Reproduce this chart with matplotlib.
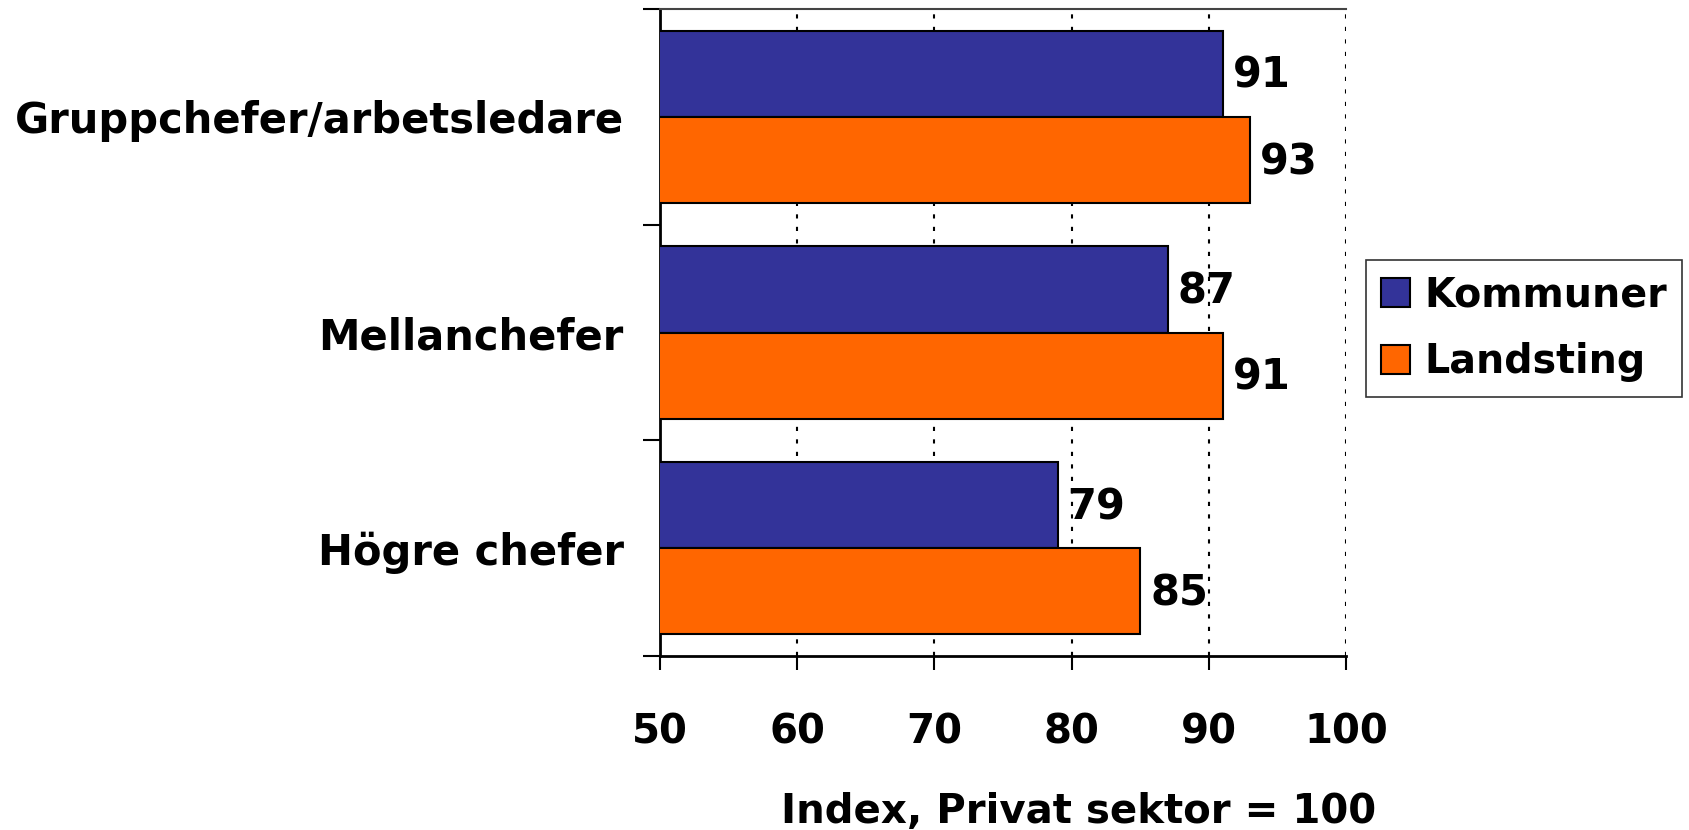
import matplotlib
matplotlib.use("Agg")
import matplotlib.pyplot as plt
import numpy as np

categories = ["Högre chefer", "Mellanchefer", "Gruppchefer/arbetsledare"]
kommuner = [79, 87, 91]
landsting = [85, 91, 93]
series_names = ["Kommuner", "Landsting"]
xticks = [50, 60, 70, 80, 90, 100]
xlabel = "Index, Privat sektor = 100"

colors = ["#333399", "#FF6600"]

plt.rcParams['font.family'] = ['DejaVu Sans']
fig = plt.figure(figsize=(16.9, 8.3), dpi=100)
ax = fig.add_axes([0.3905, 0.2096, 0.7966 - 0.3905, 0.989 - 0.2096])

y = np.arange(len(categories))
h = 0.4
b1 = ax.barh(y + h / 2, kommuner, height=h, left=0, color=colors[0],
             edgecolor="black", linewidth=1.5, label=series_names[0], zorder=3)
b2 = ax.barh(y - h / 2, landsting, height=h, left=0, color=colors[1],
             edgecolor="black", linewidth=1.5, label=series_names[1], zorder=3)

for bars, vals in ((b1, kommuner), (b2, landsting)):
    for rect, v in zip(bars, vals):
        ax.annotate(f"{v}", xy=(v, rect.get_y() + rect.get_height() / 2),
                    xytext=(7, -1.5), textcoords="offset points",
                    ha="left", va="center", fontsize=30, fontweight="bold")

ax.set_xlim(50, 100)
ax.set_ylim(-0.5, len(categories) - 0.5)
ax.set_xticks(xticks)
ax.set_xticklabels([str(t) for t in xticks], fontsize=29, fontweight="bold")
ax.tick_params(axis="x", direction="out", length=10, width=1.5, pad=31)

# y ticks at category boundaries, labels at centers
ax.set_yticks(np.arange(-0.5, len(categories), 1.0))
ax.set_yticklabels([])
ax.set_yticks(y, minor=True)
ax.set_yticklabels(categories, minor=True, fontsize=30, fontweight="bold")
ax.tick_params(axis="y", which="major", direction="out", length=12, width=1.5)
ax.tick_params(axis="y", which="minor", length=0, pad=26)

for gx in xticks[1:]:
    ax.axvline(gx, color="black", linestyle=(0, (2, 4)), linewidth=1.5, zorder=1)

ax.spines["left"].set_linewidth(2)
ax.spines["bottom"].set_linewidth(2)
ax.spines["top"].set_linewidth(1.5)
ax.spines["top"].set_color("#444444")
ax.spines["right"].set_visible(False)

fig.text(0.638, 0.022, xlabel, ha="center", va="center", fontsize=29, fontweight="bold")

leg = fig.legend(handles=[b1, b2], labels=series_names, loc="center left",
                 bbox_to_anchor=(0.808, 0.604),
                 prop={"weight": "bold", "size": 28.5}, frameon=True, fancybox=False,
                 edgecolor="black", handlelength=0.75, handleheight=0.75,
                 handletextpad=0.35, borderpad=0.38, labelspacing=0.68,
                 borderaxespad=0)
leg.get_frame().set_linewidth(1.2)

fig.savefig("out.png", dpi=100)
